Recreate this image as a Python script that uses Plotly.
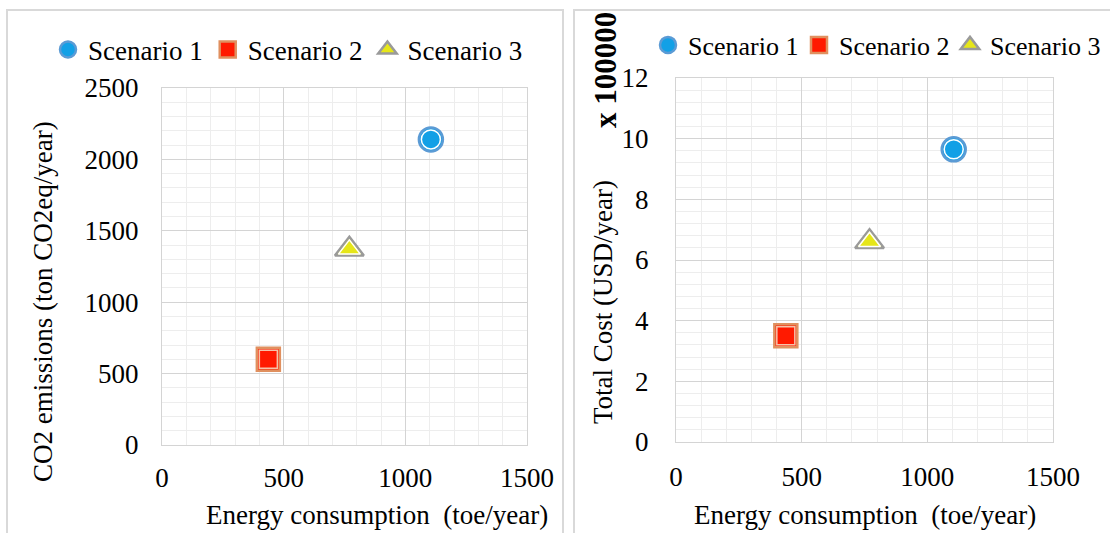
import plotly.graph_objects as go

# ---- data ----
scenarios = ["Scenario 1", "Scenario 2", "Scenario 3"]
energy = [1105, 437, 770]            # toe/year
co2 = [2140, 600, 1370]              # ton CO2eq/year
cost_x100000 = [9.65, 3.5, 6.6]      # USD/year, in units of 100000

x_ticks = [0, 500, 1000, 1500]
co2_ticks = [0, 500, 1000, 1500, 2000, 2500]
cost_ticks = [0, 2, 4, 6, 8, 10, 12]

symbols = ["circle", "square", "triangle-up"]
fill_colors = ["#12a0e6", "#ff1a00", "#e6e619"]
ring_colors = ["#5b9bd5", "#e0905f", "#9a9a9a"]
inner_ring = ["white", "#f6c2a8", "white"]
outer_sizes = [24, 23, 25]
inner_sizes = [19, 18, 19]

W, H = 1110, 533
FONT = "Liberation Serif"
FS = 27

fig = go.Figure()

def add_points(xs, ys, xa, ya, legend):
    for i, name in enumerate(scenarios):
        fig.add_trace(go.Scatter(
            x=[xs[i]], y=[ys[i]], mode="markers", name=name,
            xaxis=xa, yaxis=ya, legend=legend,
            marker=dict(symbol=symbols[i], size=outer_sizes[i], color=fill_colors[i],
                        line=dict(color=ring_colors[i], width=2.5)),
        ))
        fig.add_trace(go.Scatter(
            x=[xs[i]], y=[ys[i]], mode="markers", showlegend=False,
            xaxis=xa, yaxis=ya, hoverinfo="skip",
            marker=dict(symbol=symbols[i], size=inner_sizes[i], color="rgba(0,0,0,0)",
                        line=dict(color=inner_ring[i], width=1.5)),
        ))

add_points(energy, co2, "x", "y", "legend")
add_points(energy, cost_x100000, "x2", "y2", "legend2")

def px_x(p):
    return p / W

def px_y(p):
    return (H - p) / H

common_axis = dict(
    showgrid=True, gridcolor="#d4d4d4", gridwidth=1,
    showline=True, linecolor="#d4d4d4", linewidth=1, mirror=True,
    zeroline=False, ticks="", automargin=False,
    tickfont=dict(family=FONT, size=FS, color="#000"),
    fixedrange=True,
)

fig.update_layout(
    width=W, height=H,
    margin=dict(l=0, r=0, t=0, b=0, autoexpand=False),
    paper_bgcolor="white", plot_bgcolor="white",
    font=dict(family=FONT, size=FS, color="#000"),
    xaxis=dict(domain=[px_x(162), px_x(527)], range=[0, 1500],
               tickvals=x_ticks, anchor="y", ticklabelstandoff=9,
               minor=dict(dtick=100, showgrid=True, gridcolor="#ededed"),
               **common_axis),
    yaxis=dict(domain=[px_y(445), px_y(88)], range=[0, 2500],
               tickvals=co2_ticks, anchor="x", ticklabelstandoff=17,
               minor=dict(dtick=100, showgrid=True, gridcolor="#ededed"),
               **common_axis),
    xaxis2=dict(domain=[px_x(676), px_x(1053)], range=[0, 1500],
                tickvals=x_ticks, anchor="y2", ticklabelstandoff=11,
                minor=dict(dtick=100, showgrid=True, gridcolor="#ededed"),
                **common_axis),
    yaxis2=dict(domain=[px_y(442), px_y(78)], range=[0, 12],
                tickvals=cost_ticks, anchor="x2", ticklabelstandoff=21,
                minor=dict(dtick=0.4, showgrid=True, gridcolor="#ededed"),
                **common_axis),
    legend=dict(orientation="h", x=px_x(48), y=px_y(50), xanchor="left",
                yanchor="middle", font=dict(family=FONT, size=FS, color="#000"),
                bgcolor="rgba(0,0,0,0)", itemclick=False, itemdoubleclick=False),
    legend2=dict(orientation="h", x=px_x(648), y=px_y(45), xanchor="left",
                 yanchor="middle", font=dict(family=FONT, size=FS - 1, color="#000"),
                 entrywidth=106, entrywidthmode="pixels",
                 bgcolor="rgba(0,0,0,0)", itemclick=False, itemdoubleclick=False),
    showlegend=True,
)

# panel frames
fig.add_shape(type="rect", xref="paper", yref="paper",
              x0=px_x(7), x1=px_x(563), y0=-0.05, y1=px_y(10),
              line=dict(color="#d9d9d9", width=2), fillcolor="rgba(0,0,0,0)", layer="below")
fig.add_shape(type="rect", xref="paper", yref="paper",
              x0=px_x(574), x1=1.05, y0=-0.05, y1=px_y(10),
              line=dict(color="#d9d9d9", width=2), fillcolor="rgba(0,0,0,0)", layer="below")

ann_font = dict(family=FONT, size=FS, color="#000")
ann_common = dict(xref="paper", yref="paper", showarrow=False,
                  xanchor="center", yanchor="middle")
fig.add_annotation(text="Energy consumption  (toe/year)", x=px_x(377), y=px_y(515),
                   font=ann_font, **ann_common)
fig.add_annotation(text="Energy consumption  (toe/year)", x=px_x(865), y=px_y(515),
                   font=ann_font, **ann_common)
fig.add_annotation(text="CO2 emissions (ton CO2eq/year)", x=px_x(43), y=px_y(302),
                   textangle=-90, font=ann_font, **ann_common)
fig.add_annotation(text="Total Cost (USD/year)", x=px_x(603), y=px_y(302),
                   textangle=-90, font=ann_font, **ann_common)
fig.add_annotation(text="<b>x 100000</b>", x=px_x(605), y=px_y(70),
                   textangle=-90, font=dict(family=FONT, size=31, color="#000"),
                   **ann_common)

fig.write_html("out.html", config={"displayModeBar": False},
               post_script="document.body.style.margin='0px';")
